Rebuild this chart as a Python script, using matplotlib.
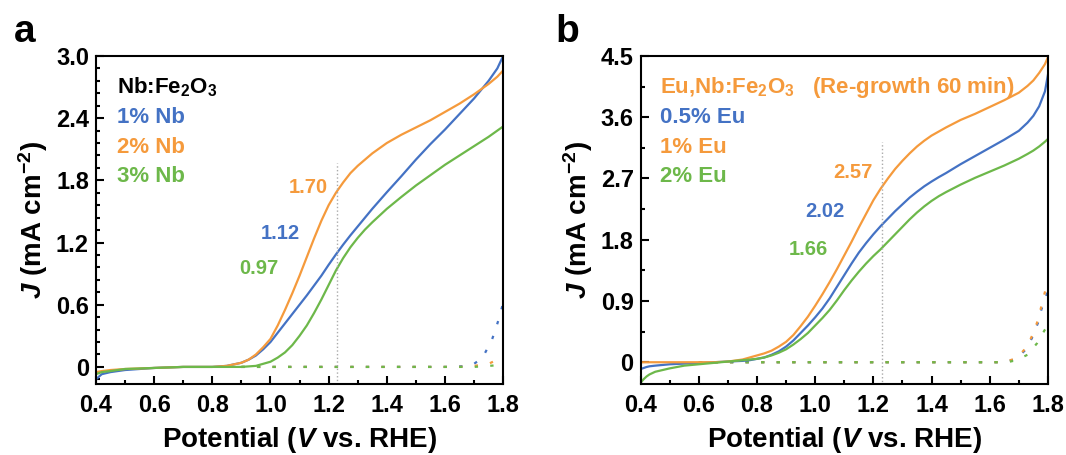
import numpy as np
import matplotlib.pyplot as plt
from matplotlib.ticker import MultipleLocator, FuncFormatter

plt.rcParams['font.family'] = ['Liberation Sans', 'DejaVu Sans']
plt.rcParams['font.weight'] = 'bold'
plt.rcParams['axes.labelweight'] = 'bold'
plt.rcParams['mathtext.fontset'] = 'custom'
plt.rcParams['mathtext.rm'] = 'Liberation Sans:bold'
plt.rcParams['mathtext.bf'] = 'Liberation Sans:bold'
plt.rcParams['mathtext.it'] = 'Liberation Sans:italic:bold'
plt.rcParams['mathtext.default'] = 'rm'

BLUE = '#4472C4'
ORANGE = '#F59A3C'
GREEN = '#6DB84A'

# ---- panel a : Nb:Fe2O3, light (solid) ----
va = [0.40, 0.42, 0.45, 0.50, 0.60, 0.70, 0.80, 0.85,
      0.90, 0.925, 0.95, 0.975, 1.00, 1.025, 1.05, 1.075, 1.10, 1.125, 1.15, 1.175,
      1.20, 1.225, 1.25, 1.275, 1.30, 1.325, 1.35, 1.375, 1.40,
      1.45, 1.50, 1.55, 1.60, 1.65, 1.70, 1.75, 1.78, 1.80]
nb1 = [-0.12, -0.07, -0.05, -0.03, -0.01, 0.0, 0.0, 0.01,
       0.04, 0.07, 0.11, 0.17, 0.24, 0.33, 0.42, 0.51, 0.60, 0.69, 0.785, 0.88,
       0.985, 1.085, 1.18, 1.27, 1.355, 1.44, 1.525, 1.605, 1.685,
       1.84, 2.00, 2.15, 2.29, 2.44, 2.59, 2.76, 2.88, 3.00]
nb2 = [-0.05, -0.04, -0.03, -0.02, -0.01, 0.0, 0.0, 0.01,
       0.04, 0.07, 0.12, 0.19, 0.27, 0.40, 0.55, 0.71, 0.88, 1.06, 1.24, 1.41,
       1.56, 1.68, 1.78, 1.87, 1.94, 2.00, 2.06, 2.11, 2.16,
       2.24, 2.31, 2.38, 2.46, 2.54, 2.63, 2.73, 2.80, 2.86]
nb3 = [-0.07, -0.05, -0.04, -0.02, -0.01, 0.0, 0.0, 0.0,
       0.0, 0.005, 0.01, 0.03, 0.05, 0.09, 0.14, 0.21, 0.30, 0.40, 0.52, 0.65,
       0.79, 0.93, 1.05, 1.155, 1.245, 1.325, 1.395, 1.46, 1.525,
       1.64, 1.75, 1.85, 1.95, 2.04, 2.13, 2.22, 2.28, 2.32]

# ---- panel a : dark (dotted) ----
va_d1 = [0.90, 1.60, 1.65, 1.68, 1.70, 1.72, 1.733, 1.75, 1.76, 1.776, 1.79, 1.80]
nb1_d = [0.0, 0.0, 0.005, 0.01, 0.03, 0.07, 0.11, 0.20, 0.25, 0.38, 0.51, 0.62]
va_d2 = [0.90, 1.65, 1.70, 1.75, 1.78, 1.80]
nb2_d = [0.0, 0.0, 0.01, 0.03, 0.07, 0.11]
va_d3 = [0.90, 1.70, 1.80]
nb3_d = [0.0, 0.0, 0.02]

# ---- panel b : Eu,Nb:Fe2O3, light (solid) ----
vb = [0.40, 0.41, 0.42, 0.43, 0.45, 0.50, 0.55, 0.60, 0.65, 0.70,
      0.75, 0.775, 0.80, 0.825, 0.85, 0.875, 0.90, 0.925, 0.95, 0.975,
      1.00, 1.025, 1.05, 1.075, 1.10, 1.125, 1.15, 1.175, 1.20, 1.225,
      1.25, 1.275, 1.30, 1.325, 1.35, 1.375, 1.40, 1.425, 1.45,
      1.50, 1.55, 1.60, 1.65, 1.70, 1.73, 1.75, 1.77, 1.79, 1.80]
eu05 = [-0.10, -0.085, -0.07, -0.06, -0.05, -0.03, -0.02, -0.01, 0.0, 0.01,
        0.02, 0.03, 0.05, 0.07, 0.11, 0.16, 0.23, 0.32, 0.43, 0.54,
        0.66, 0.79, 0.94, 1.11, 1.28, 1.45, 1.61, 1.75, 1.88, 2.00,
        2.11, 2.22, 2.32, 2.42, 2.505, 2.585, 2.655, 2.72, 2.78,
        2.91, 3.03, 3.15, 3.27, 3.40, 3.52, 3.62, 3.76, 3.98, 4.22]
eu1 = [0.0, 0.0, 0.0, 0.0, 0.0, 0.0, 0.0, 0.0, 0.0, 0.01,
       0.04, 0.07, 0.10, 0.13, 0.17, 0.23, 0.30, 0.40, 0.53, 0.67,
       0.83, 1.00, 1.18, 1.37, 1.57, 1.77, 1.98, 2.18, 2.38, 2.55,
       2.70, 2.84, 2.96, 3.07, 3.17, 3.255, 3.33, 3.39, 3.45,
       3.56, 3.65, 3.75, 3.85, 3.96, 4.06, 4.14, 4.25, 4.38, 4.48]
eu2 = [-0.30, -0.25, -0.21, -0.18, -0.14, -0.09, -0.05, -0.03, -0.01, 0.01,
       0.03, 0.04, 0.05, 0.07, 0.10, 0.14, 0.19, 0.26, 0.34, 0.43,
       0.54, 0.65, 0.77, 0.91, 1.06, 1.20, 1.33, 1.45, 1.56, 1.66,
       1.77, 1.88, 1.99, 2.10, 2.20, 2.29, 2.37, 2.44, 2.50,
       2.61, 2.71, 2.80, 2.89, 2.99, 3.06, 3.11, 3.17, 3.24, 3.28]

# ---- panel b : dark (dotted) ----
vb_d1 = [0.60, 1.65, 1.692, 1.727, 1.748, 1.766, 1.778, 1.80]
eu05_d = [0.0, 0.0, 0.05, 0.20, 0.38, 0.58, 0.78, 1.05]
vb_d2 = [0.60, 1.65, 1.692, 1.727, 1.748, 1.766, 1.778, 1.795, 1.80]
eu1_d = [0.0, 0.0, 0.06, 0.22, 0.41, 0.62, 0.83, 1.12, 1.20]
vb_d3 = [0.60, 1.66, 1.692, 1.730, 1.763, 1.790, 1.80]
eu2_d = [0.0, 0.0, 0.03, 0.11, 0.28, 0.48, 0.55]

labels_a = ['1% Nb', '2% Nb', '3% Nb']
labels_b = ['0.5% Eu', '1% Eu', '2% Eu']
vals_a = [1.12, 1.70, 0.97]
vals_b = [2.02, 2.57, 1.66]
val_pos_a = [(1.10, 1.29), (1.198, 1.73), (1.026, 0.945)]
val_pos_b = [(1.10, 2.22), (1.198, 2.79), (1.043, 1.66)]
colors = [BLUE, ORANGE, GREEN]
DOT = (0, (1.5, 5.5))


def ytick_fmt(y, pos):
    return '0' if abs(y) < 1e-9 else '%.1f' % y


def style_axes(ax, ymin, ymax, ystep, yminor):
    ax.set_xlim(0.4, 1.8)
    ax.set_ylim(ymin, ymax)
    ax.xaxis.set_major_locator(MultipleLocator(0.2))
    ax.xaxis.set_minor_locator(MultipleLocator(0.1))
    ax.yaxis.set_major_locator(MultipleLocator(ystep))
    ax.yaxis.set_minor_locator(MultipleLocator(yminor))
    ax.yaxis.set_major_formatter(FuncFormatter(ytick_fmt))
    ax.tick_params(which='both', direction='in', width=1.5, top=False, right=False)
    ax.tick_params(which='major', length=6, labelsize=17)
    ax.tick_params(which='minor', length=3)
    ax.tick_params(axis='x', pad=7)
    ax.tick_params(axis='y', pad=5)
    for s in ax.spines.values():
        s.set_linewidth(1.5)
    ax.set_xlabel(r'Potential ($\mathit{V}$ vs. RHE)', fontsize=20, labelpad=6)
    ax.set_ylabel(r'$\mathit{J}$ (mA cm$^{-2}$)', fontsize=20, labelpad=4)


fig = plt.figure(figsize=(10.66, 4.55), dpi=100)
ax1 = fig.add_axes([0.090, 0.156, 0.382, 0.721])
ax2 = fig.add_axes([0.601, 0.156, 0.382, 0.721])

# panel a
for v, j, c in zip([va_d1, va_d2, va_d3], [nb1_d, nb2_d, nb3_d], colors):
    ax1.plot(v, j, color=c, lw=1.6, linestyle=DOT)
for j, c in zip([nb1, nb2, nb3], colors):
    ax1.plot(va, j, color=c, lw=1.6)
ax1.plot([1.23, 1.23], [-0.2, 1.97], color='#aaaaaa', lw=1, linestyle=':')
style_axes(ax1, -0.165, 3.0, 0.6, 0.12)
ax1.text(0.052, 0.905, r'Nb:Fe$_2$O$_3$', transform=ax1.transAxes, fontsize=16,
         va='center', color='black')
for k, (lab, c) in enumerate(zip(labels_a, colors)):
    ax1.text(0.052, 0.811 - k * 0.0885, lab, transform=ax1.transAxes, fontsize=16,
             va='center', color=c)
for val, (x, y), c in zip(vals_a, val_pos_a, colors):
    ax1.text(x, y, '%.2f' % val, ha='right', va='center', fontsize=14.5, color=c)

# panel b
for v, j, c in zip([vb_d1, vb_d2, vb_d3], [eu05_d, eu1_d, eu2_d], colors):
    ax2.plot(v, j, color=c, lw=1.6, linestyle=DOT)
for j, c in zip([eu05, eu1, eu2], colors):
    ax2.plot(vb, j, color=c, lw=1.6)
ax2.plot([1.23, 1.23], [-0.4, 3.23], color='#aaaaaa', lw=1, linestyle=':')
style_axes(ax2, -0.32, 4.5, 0.9, 0.45)
ax2.text(0.047, 0.905, r'Eu,Nb:Fe$_2$O$_3$   (Re-growth 60 min)', transform=ax2.transAxes,
         fontsize=16, va='center', color=ORANGE)
for k, (lab, c) in enumerate(zip(labels_b, colors)):
    ax2.text(0.047, 0.811 - k * 0.0885, lab, transform=ax2.transAxes, fontsize=16,
             va='center', color=c)
for val, (x, y), c in zip(vals_b, val_pos_b, colors):
    ax2.text(x, y, '%.2f' % val, ha='right', va='center', fontsize=14.5, color=c)

fig.text(0.013, 0.93, 'a', fontsize=28, fontweight='bold', va='center')
fig.text(0.521, 0.93, 'b', fontsize=28, fontweight='bold', va='center')

fig.savefig('out.png', dpi=100)
